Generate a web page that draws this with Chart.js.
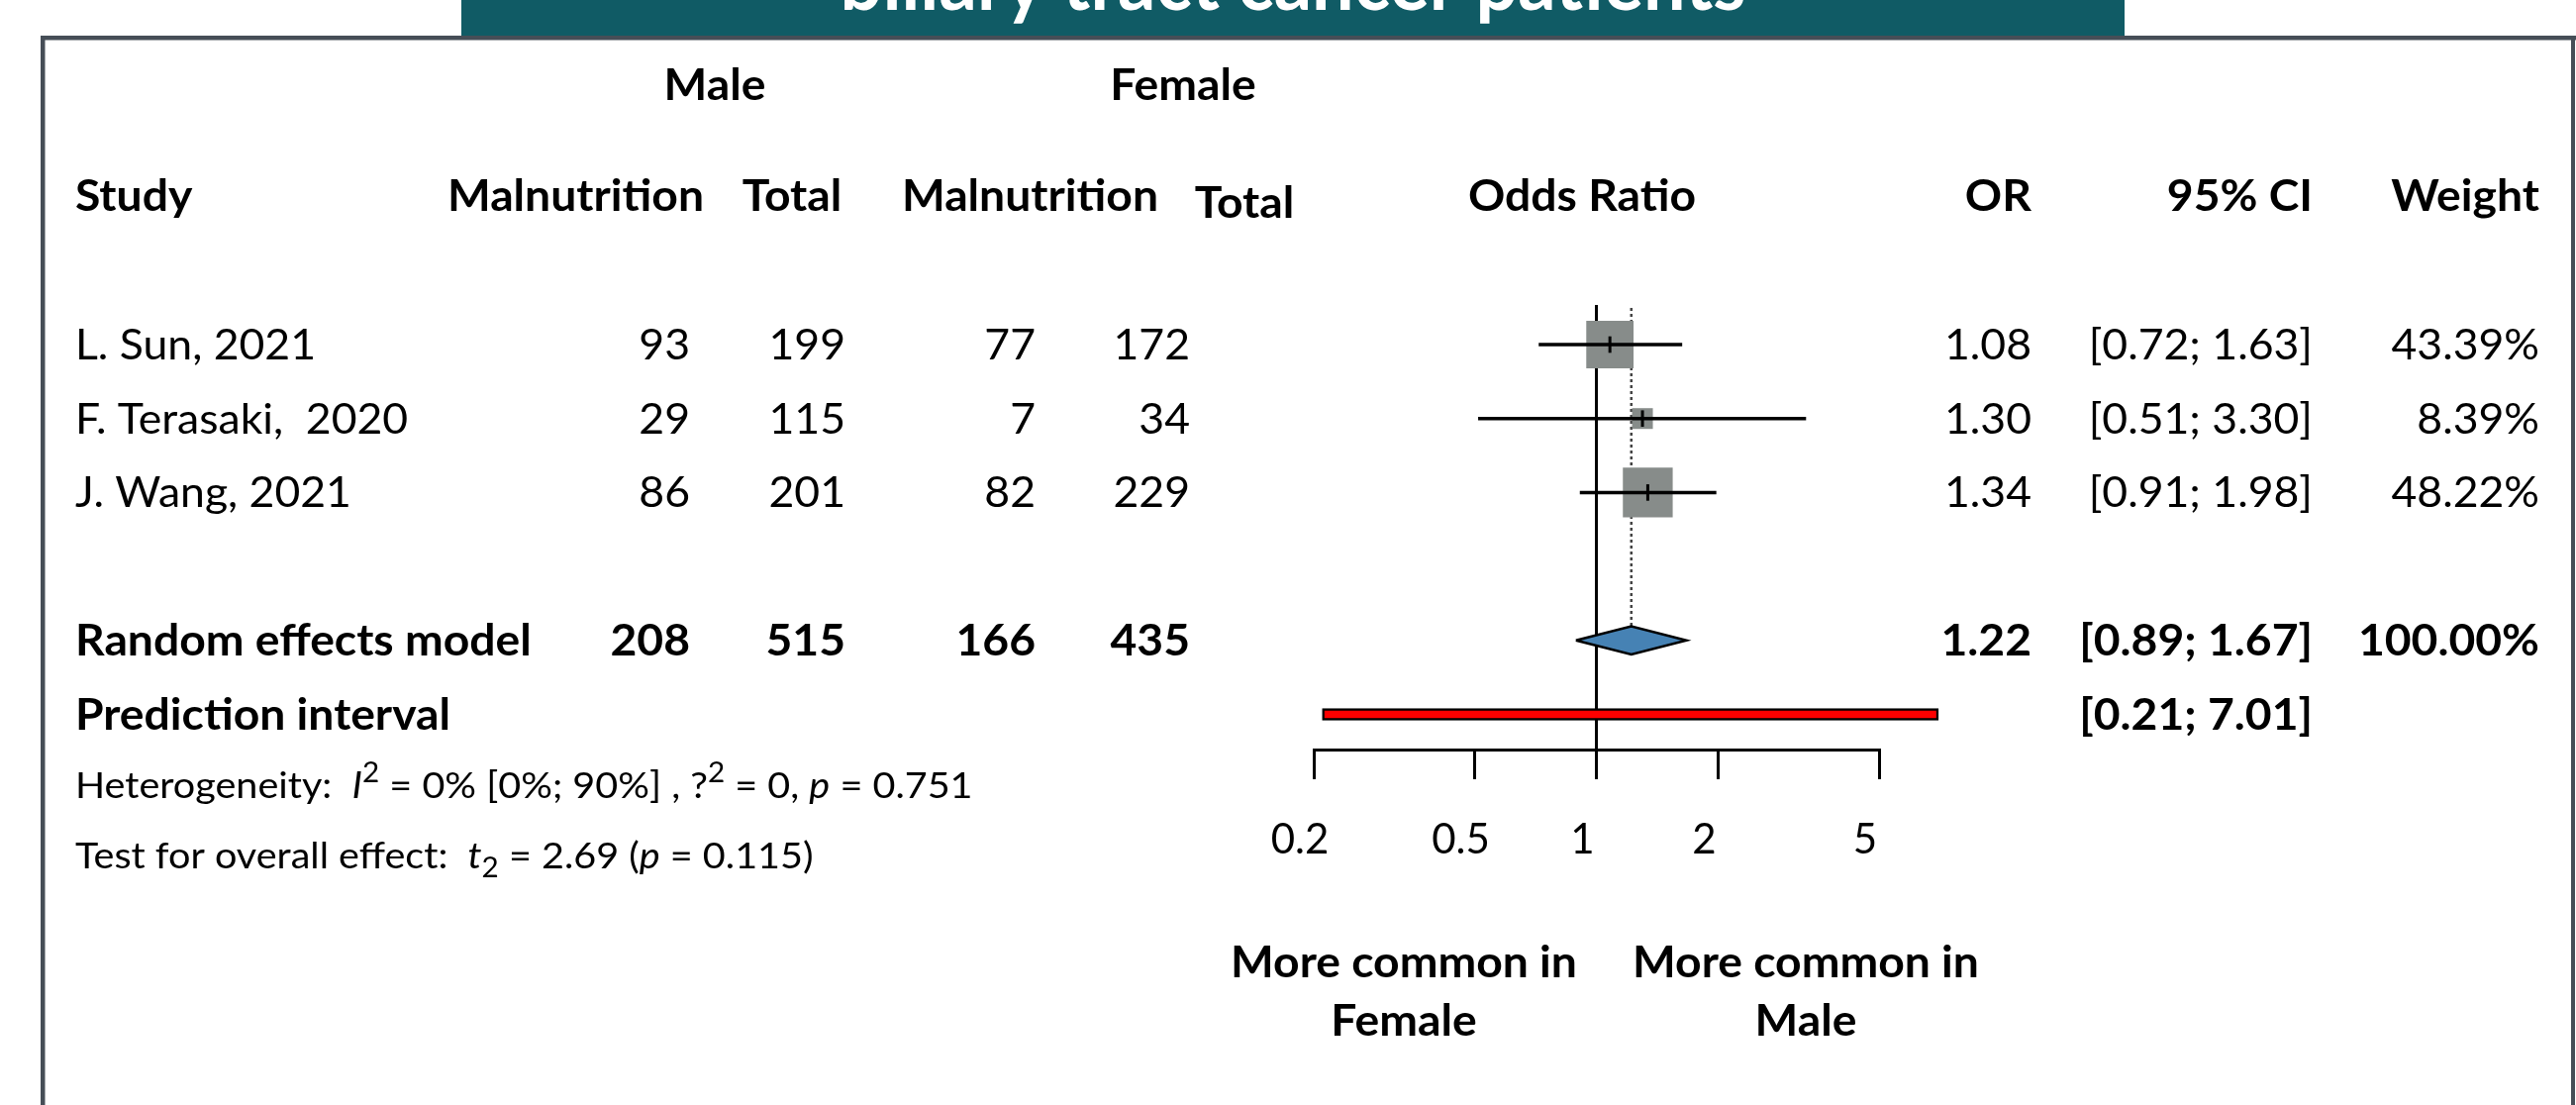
<!DOCTYPE html>
<html>
<head>
<meta charset="utf-8">
<title>Forest plot – malnutrition by sex</title>
<script src="https://cdn.jsdelivr.net/npm/chart.js@4.4.1/dist/chart.umd.min.js"></script>
<style>
html,body{margin:0;padding:0;background:#ffffff;overflow:hidden;}
canvas{display:block;}
</style>
</head>
<body>
<canvas id="forest" width="2602" height="1116"></canvas>
<script>
// ---------------- data ----------------
const studies = ['L. Sun, 2021', 'F. Terasaki,  2020', 'J. Wang, 2021'];
const maleMalnutrition = [93, 29, 86];
const maleTotal = [199, 115, 201];
const femaleMalnutrition = [77, 7, 82];
const femaleTotal = [172, 34, 229];
const oddsRatio = [1.08, 1.30, 1.34];
const ciLower = [0.72, 0.51, 0.91];
const ciUpper = [1.63, 3.30, 1.98];
const weightPct = [43.39, 8.39, 48.22];

const pooledLabel = 'Random effects model';
const pooledCounts = [208, 515, 166, 435];      // male malnutrition, male total, female malnutrition, female total
const pooledEstimate = [1.22, 0.89, 1.67];      // OR, lower, upper
const pooledWeight = [100.00];
const predictionLabel = 'Prediction interval';
const predictionCI = [0.21, 7.01];
const tickValues = [0.2, 0.5, 1, 2, 5];
const tickLabels = ['0.2', '0.5', '1', '2', '5'];

const titleText = 'biliary tract cancer patients';
const groupHeaders = ['Male', 'Female'];
const columnHeaders = ['Study', 'Malnutrition', 'Total', 'Malnutrition', 'Total', 'Odds Ratio', 'OR', '95% CI', 'Weight'];
const favourLeft = ['More common in', 'Female'];
const favourRight = ['More common in', 'Male'];
const heterogeneityText = [
  {t: 'Heterogeneity:  '}, {t: 'I', it: true}, {t: '2', sup: true},
  {t: ' = 0% [0%; 90%] , ?'}, {t: '2', sup: true}, {t: ' = 0, '},
  {t: 'p', it: true}, {t: ' = 0.751'}
];
const overallText = [
  {t: 'Test for overall effect:  '}, {t: 't', it: true}, {t: '2', sub: true},
  {t: ' = 2.69 ('}, {t: 'p', it: true}, {t: ' = 0.115)'}
];

// ---------------- layout / style constants ----------------
const FONT = 'Lato';
const CAP = 0.7165;             // cap-height ratio of Lato
const AXIS_Y = 757;             // pixel of the x axis line
const PLOT_TOP = 308;
const Y_MIN = 0.4645, Y_MAX = 6.475;
const STUDY_ROWS = studies.map((s, i) => i + 1);
const POOLED_ROW = 5, PRED_ROW = 6;
const DIAMOND_HALF = 0.19, PRED_BAR_PX = 12;
const SQUARE_K = 7.25;          // square side = K * sqrt(weight)
const SIZE_BOLD = 43, SIZE_REG = 42, SIZE_SMALL = 37.3;

Chart.defaults.font.family = FONT;

// ---------------- datasets ----------------
const datasets = [];
datasets.push({
  type: 'line', label: 'no effect', order: 20, clip: false,
  data: [{x: 1, y: Y_MIN}, {x: 1, y: Y_MAX}],
  borderColor: '#000', borderWidth: 3, pointRadius: 0, tension: 0
});
datasets.push({
  type: 'line', label: 'pooled ref', order: 19, clip: false,
  data: [{x: pooledEstimate[0], y: Y_MIN + 0.04}, {x: pooledEstimate[0], y: POOLED_ROW - DIAMOND_HALF}],
  borderColor: '#444', borderWidth: 2.5, borderDash: [3, 3], pointRadius: 0, tension: 0
});
datasets.push({
  type: 'bar', label: 'prediction', order: 18, clip: false, indexAxis: 'y',
  data: [{x: predictionCI, y: PRED_ROW}],
  backgroundColor: '#ff0000', borderColor: '#000', borderWidth: 2.5,
  borderSkipped: false, barThickness: PRED_BAR_PX
});
datasets.push({
  type: 'scatter', label: 'weights', order: 10, clip: false,
  data: oddsRatio.map((v, i) => ({x: v, y: STUDY_ROWS[i]})),
  pointStyle: 'rect',
  pointRadius: weightPct.map(w => SQUARE_K * Math.sqrt(w) / Math.SQRT2),
  pointBackgroundColor: '#878c8a', pointBorderWidth: 0, pointHoverRadius: 0
});
studies.forEach((s, i) => {
  datasets.push({
    type: 'line', label: s, order: 5, clip: false,
    data: [{x: ciLower[i], y: STUDY_ROWS[i]}, {x: ciUpper[i], y: STUDY_ROWS[i]}],
    borderColor: '#000', borderWidth: 3.5, pointRadius: 0, tension: 0, borderCapStyle: 'butt'
  });
});
datasets.push({
  type: 'scatter', label: 'estimates', order: 2, clip: false,
  data: oddsRatio.map((v, i) => ({x: v, y: STUDY_ROWS[i]})),
  pointStyle: 'line', pointRotation: 90, pointRadius: 8.3,
  pointBorderColor: '#000', pointBorderWidth: 3, pointHoverRadius: 0
});
datasets.push({
  type: 'line', label: 'pooled', order: 1, clip: false,
  data: [
    {x: pooledEstimate[1], y: POOLED_ROW},
    {x: pooledEstimate[0], y: POOLED_ROW - DIAMOND_HALF},
    {x: pooledEstimate[2], y: POOLED_ROW},
    {x: pooledEstimate[0], y: POOLED_ROW + DIAMOND_HALF},
    {x: pooledEstimate[1], y: POOLED_ROW}
  ],
  fill: 'shape', backgroundColor: '#4682b4', borderColor: '#000', borderWidth: 2.5,
  borderJoinStyle: 'miter', pointRadius: 0, tension: 0
});

// ---------------- text helpers ----------------
let SX_B = 1, SX_R = 1;
function setFont(ctx, size, bold, italic) {
  ctx.font = (italic ? 'italic ' : '') + (bold ? '700 ' : '400 ') + size + 'px ' + FONT;
}
function txt(ctx, s, x, yc, o) {
  const size = o.size, sx = o.bold ? SX_B : SX_R;
  setFont(ctx, size, o.bold, false);
  const w = ctx.measureText(s).width * sx;
  const x0 = o.align === 'right' ? x - w : (o.align === 'center' ? x - w / 2 : x);
  ctx.save();
  ctx.translate(x0, yc + CAP * size / 2);
  ctx.scale(sx, 1);
  ctx.textAlign = 'left'; ctx.textBaseline = 'alphabetic';
  ctx.fillText(s, 0, 0);
  ctx.restore();
}
function rich(ctx, segs, x, yc, size) {
  let cx = x;
  const base = yc + CAP * size / 2;
  for (const s of segs) {
    const small = s.sup || s.sub;
    const sz = small ? size * 0.75 : size;
    setFont(ctx, sz, false, s.it);
    const dy = s.sup ? -size * 0.45 : (s.sub ? size * 0.22 : 0);
    ctx.save();
    ctx.translate(cx, base + dy);
    ctx.scale(SX_R, 1);
    ctx.textAlign = 'left'; ctx.textBaseline = 'alphabetic';
    ctx.fillText(s.t, 0, 0);
    ctx.restore();
    cx += ctx.measureText(s.t).width * SX_R;
  }
}

const forestPlugin = {
  id: 'forestTable',
  beforeDraw(chart) {
    const ctx = chart.ctx;
    ctx.save();
    ctx.fillStyle = '#ffffff';
    ctx.fillRect(0, 0, chart.width, chart.height);
    // banner
    ctx.fillStyle = '#105b65';
    ctx.fillRect(466, 0, 1680, 37);
    setFont(ctx, 80, true, false);
    const tw = ctx.measureText(titleText).width;
    const tsx = 915 / tw;
    ctx.fillStyle = '#ffffff';
    ctx.save();
    ctx.translate(1306 - tw * tsx / 2, 10);
    ctx.scale(tsx, 1);
    ctx.textBaseline = 'alphabetic';
    ctx.fillText(titleText, 0, 0);
    ctx.restore();
    // frame
    ctx.fillStyle = '#464e57';
    ctx.fillRect(41, 36, 2561, 4.5);
    ctx.fillRect(41, 36, 4.5, 1080);
    ctx.fillRect(2597, 36, 4, 1080);
    ctx.restore();
  },
  afterDraw(chart) {
    const ctx = chart.ctx;
    const Y = v => chart.scales.y.getPixelForValue(v);
    ctx.save();
    setFont(ctx, SIZE_BOLD, true, false);
    SX_B = 259 / ctx.measureText('Malnutrition').width;
    setFont(ctx, SIZE_REG, false, false);
    SX_R = 243 / ctx.measureText('L. Sun, 2021').width;
    ctx.fillStyle = '#000';

    const B = {size: SIZE_BOLD, bold: true};
    // group headers
    txt(ctx, groupHeaders[0], 722, Y(-2.507), {...B, align: 'center'});
    txt(ctx, groupHeaders[1], 1195, Y(-2.507), {...B, align: 'center'});
    // column headers
    const hy = Y(-1.015);
    txt(ctx, columnHeaders[0], 76, hy, {...B, align: 'left'});
    txt(ctx, columnHeaders[1], 581.5, hy, {...B, align: 'center'});
    txt(ctx, columnHeaders[2], 800, hy, {...B, align: 'center'});
    txt(ctx, columnHeaders[3], 1040.5, hy, {...B, align: 'center'});
    txt(ctx, columnHeaders[4], 1257, Y(-0.914), {...B, align: 'center'});
    txt(ctx, columnHeaders[5], 1598, hy, {...B, align: 'center'});
    txt(ctx, columnHeaders[6], 2052, hy, {...B, align: 'right'});
    txt(ctx, columnHeaders[7], 2336, hy, {...B, align: 'right'});
    txt(ctx, columnHeaders[8], 2565, hy, {...B, align: 'right'});

    // study rows
    const R = {size: SIZE_REG, bold: false};
    studies.forEach((s, i) => {
      const y = Y(STUDY_ROWS[i]);
      txt(ctx, s, 76, y, {...R, align: 'left'});
      txt(ctx, String(maleMalnutrition[i]), 697, y, {...R, align: 'right'});
      txt(ctx, String(maleTotal[i]), 854, y, {...R, align: 'right'});
      txt(ctx, String(femaleMalnutrition[i]), 1046, y, {...R, align: 'right'});
      txt(ctx, String(femaleTotal[i]), 1202, y, {...R, align: 'right'});
      txt(ctx, oddsRatio[i].toFixed(2), 2052, y, {...R, align: 'right'});
      txt(ctx, '[' + ciLower[i].toFixed(2) + '; ' + ciUpper[i].toFixed(2) + ']', 2336, y, {...R, align: 'right'});
      txt(ctx, weightPct[i].toFixed(2) + '%', 2565, y, {...R, align: 'right'});
    });

    // pooled row
    const py = Y(POOLED_ROW);
    txt(ctx, pooledLabel, 76, py, {...B, align: 'left'});
    [697, 854, 1046, 1202].forEach((x, k) => txt(ctx, String(pooledCounts[k]), x, py, {...B, align: 'right'}));
    txt(ctx, pooledEstimate[0].toFixed(2), 2052, py, {...B, align: 'right'});
    txt(ctx, '[' + pooledEstimate[1].toFixed(2) + '; ' + pooledEstimate[2].toFixed(2) + ']', 2336, py, {...B, align: 'right'});
    txt(ctx, pooledWeight[0].toFixed(2) + '%', 2565, py, {...B, align: 'right'});

    // prediction row
    const qy = Y(PRED_ROW);
    txt(ctx, predictionLabel, 76, qy, {...B, align: 'left'});
    txt(ctx, '[' + predictionCI[0].toFixed(2) + '; ' + predictionCI[1].toFixed(2) + ']', 2336, qy, {...B, align: 'right'});

    // statistics
    rich(ctx, heterogeneityText, 76, Y(6.957), SIZE_SMALL);
    rich(ctx, overallText, 76, Y(7.907), SIZE_SMALL);

    // favour labels
    txt(ctx, favourLeft[0], 1418, Y(9.353), {...B, align: 'center'});
    txt(ctx, favourLeft[1], 1418, Y(10.137), {...B, align: 'center'});
    txt(ctx, favourRight[0], 1824, Y(9.353), {...B, align: 'center'});
    txt(ctx, favourRight[1], 1824, Y(10.137), {...B, align: 'center'});
    ctx.restore();
  }
};

new Chart(document.getElementById('forest'), {
  type: 'scatter',
  data: {datasets},
  plugins: [forestPlugin],
  options: {
    responsive: false,
    devicePixelRatio: 1,
    animation: false,
    events: [],
    layout: {padding: {left: 1327, right: 2602 - 1898, top: PLOT_TOP, bottom: 0}},
    plugins: {legend: {display: false}, tooltip: {enabled: false}, title: {display: false}},
    scales: {
      x: {
        type: 'logarithmic',
        min: tickValues[0], max: tickValues[tickValues.length - 1],
        bounds: 'data', offset: false, beginAtZero: false,
        afterBuildTicks: (scale) => { scale.ticks = tickValues.map(v => ({value: v})); },
        afterFit: (scale) => { scale.height = 1116 - AXIS_Y; },
        border: {display: true, color: '#000', width: 3},
        grid: {display: true, offset: false, drawOnChartArea: false, drawTicks: true, tickLength: 30, color: '#000', lineWidth: 3},
        ticks: {
          autoSkip: false, maxRotation: 0, padding: 36, labelOffset: -14, color: '#000',
          font: {family: FONT, size: SIZE_REG, weight: '400'},
          callback: (value, index) => tickLabels[index]
        }
      },
      y: {
        type: 'linear', display: false, reverse: true, bounds: 'data',
        offset: false, grid: {offset: false}, beginAtZero: false,
        min: Y_MIN, max: Y_MAX
      }
    }
  }
});
</script>
</body>
</html>
